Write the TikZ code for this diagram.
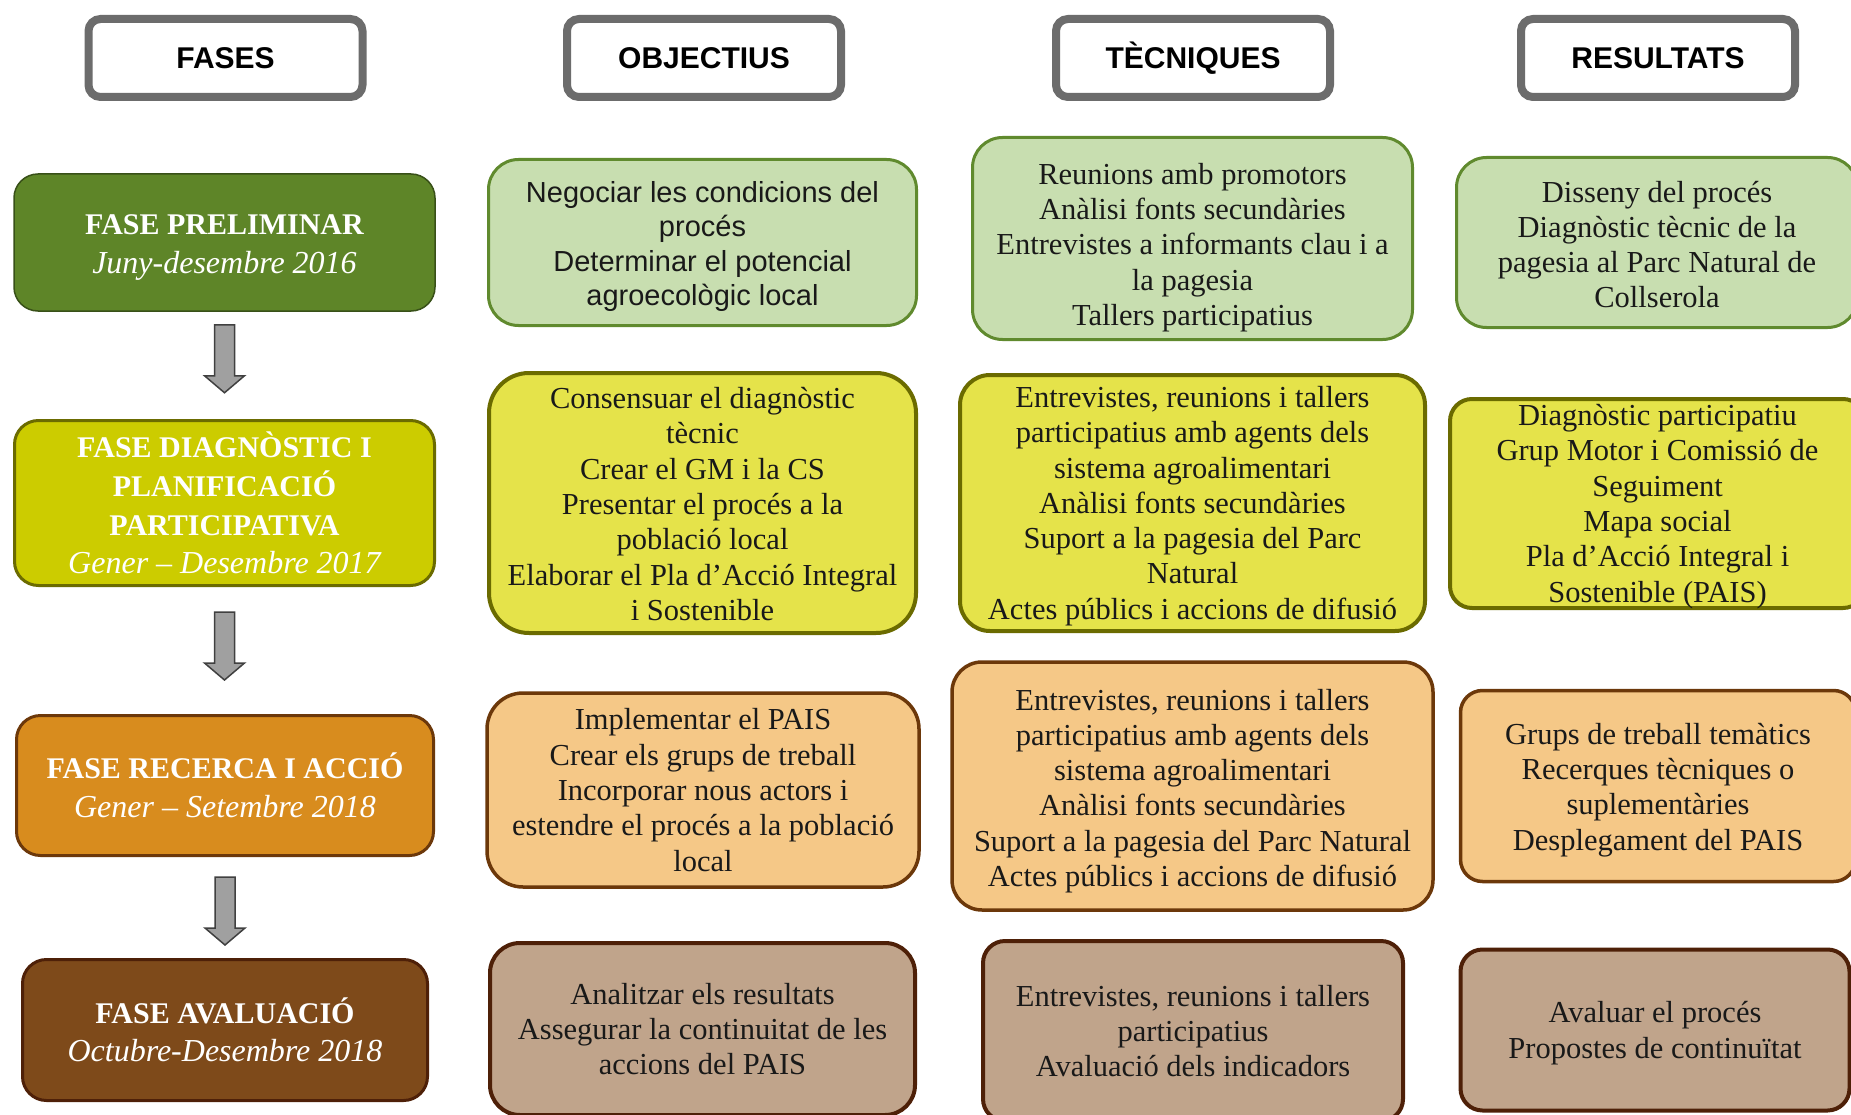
\documentclass[tikz,border=0pt]{standalone}
\usepackage{fontspec}
\setmainfont{Liberation Serif}
\setsansfont{Liberation Sans}
\usepackage{tikz}
\usetikzlibrary{calc}

\definecolor{grisV}{RGB}{108,108,108}
\definecolor{grisF}{RGB}{160,160,160}
\definecolor{verdF}{RGB}{94,133,40}
\definecolor{verdL}{RGB}{200,222,176}
\definecolor{verdV}{RGB}{96,138,46}
\definecolor{grocF}{RGB}{204,204,0}
\definecolor{grocL}{RGB}{229,227,74}
\definecolor{grocV}{RGB}{107,107,0}
\definecolor{taronjaF}{RGB}{216,140,30}
\definecolor{taronjaL}{RGB}{245,200,135}
\definecolor{taronjaV}{RGB}{108,56,10}
\definecolor{marroF}{RGB}{126,74,26}
\definecolor{marroL}{RGB}{192,164,139}
\definecolor{marroV}{RGB}{78,32,8}

\tikzset{
  capbox/.style={draw=grisV, line width=8pt, fill=white, rounded corners=12pt,
    minimum width=274pt, minimum height=78pt, inner sep=0pt,
    font=\sffamily\bfseries\fontsize{30}{36}\selectfont},
  fasebox/.style={rounded corners=24pt, inner sep=0pt},
  fasetext/.style={text=white, align=center, inner sep=0pt,
    font=\bfseries\fontsize{30}{38.6}\selectfont},
  caixa/.style={rounded corners=30pt, inner sep=0pt},
  lletra/.style={align=center, inner sep=0pt, text=black!90,
    font=\fontsize{30.5}{35.3}\selectfont},
  fila1/.style={fill=verdL, draw=verdV, line width=3pt},
  fila2/.style={fill=grocL, draw=grocV, line width=4pt},
  fila3/.style={fill=taronjaL, draw=taronjaV, line width=3.5pt},
  fila4/.style={fill=marroL, draw=marroV, line width=4pt},
  fletxa/.style={draw=black!75, fill=grisF, line width=1.5pt},
}

\newcommand{\data}[1]{{\normalfont\itshape\fontsize{32}{38.6}\selectfont #1}}
\newcommand{\fletxabaix}[2]{%
  \draw[fletxa] ($(#1.south)+(-10,#2)$) -- ++(20,0) -- ++(0,51) -- ++(10,0)
    -- ++(-20,17) -- ++(-20,-17) -- ++(10,0) -- cycle;}

\begin{document}
\begin{tikzpicture}[x=1pt,y=-1pt]
\useasboundingbox[fill=white] (0,0) rectangle (1851,1115);

\node[capbox] (cFases) at (225.5,58) {FASES};
\node[capbox] (cObj) at (704,58) {OBJECTIUS};
\node[capbox] (cTec) at (1193,58) {TÈCNIQUES};
\node[capbox] (cRes) at (1658,58) {RESULTATS};

\node[fasebox, fill=verdF, draw=verdF!60!black, line width=1.5pt,
  minimum width=421pt, minimum height=137pt,
  label={[fasetext, yshift=-5pt, font=\bfseries\fontsize{30}{39}\selectfont]center:{FASE PRELIMINAR\\\data{Juny-desembre 2016}}}]
  (f1) at (224.5,242.5) {};
\node[fasebox, fill=grocF, draw=grocV, line width=3pt,
  minimum width=420pt, minimum height=165pt,
  label={[fasetext]center:{FASE DIAGNÒSTIC I\\PLANIFICACIÓ\\PARTICIPATIVA\\\data{Gener – Desembre 2017}}}]
  (f2) at (224.5,503) {};
\node[fasebox, fill=taronjaF, draw=taronjaV, line width=3pt,
  minimum width=417pt, minimum height=140pt,
  label={[fasetext]center:{FASE RECERCA I ACCIÓ\\\data{Gener – Setembre 2018}}}]
  (f3) at (225,785.5) {};
\node[fasebox, fill=marroF, draw=marroV, line width=3pt,
  minimum width=405pt, minimum height=141pt,
  label={[fasetext]center:{FASE AVALUACIÓ\\\data{Octubre-Desembre 2018}}}]
  (f4) at (225,1030) {};

\fletxabaix{f1}{13}
\fletxabaix{f2}{25}
\fletxabaix{f3}{20}

\node[caixa, fila1, minimum width=428pt, minimum height=166pt,
  label={[lletra, yshift=-4pt, font=\sffamily\fontsize{29}{34.5}\selectfont]center:{Negociar les condicions del\\procés\\Determinar el potencial\\agroecològic local}}]
  (o1) at (702.5,242.5) {};
\node[caixa, fila1, minimum width=440pt, minimum height=202pt,
  label={[lletra, yshift=-9pt]center:{Reunions amb promotors\\Anàlisi fonts secundàries\\Entrevistes a informants clau i a\\la pagesia\\Tallers participatius}}]
  (t1) at (1192.5,238.5) {};
\node[caixa, fila1, minimum width=401pt, minimum height=170pt,
  label={[lletra, yshift=-2pt]center:{Disseny del procés\\Diagnòstic tècnic de la\\pagesia al Parc Natural de\\Collserola}}]
  (r1) at (1657,242.5) {};

\node[caixa, fila2, rounded corners=40pt, minimum width=427pt, minimum height=260pt,
  label={[lletra, yshift=-1pt]center:{Consensuar el diagnòstic\\tècnic\\Crear el GM i la CS\\Presentar el procés a la\\població local\\Elaborar el Pla d’Acció Integral\\i Sostenible}}]
  (o2) at (702.5,503) {};
\node[caixa, fila2, minimum width=465pt, minimum height=256pt,
  label={[lletra, yshift=-3pt]center:{Entrevistes, reunions i tallers\\participatius amb agents dels\\sistema agroalimentari\\Anàlisi fonts secundàries\\Suport a la pagesia del Parc\\Natural\\Actes públics i accions de difusió}}]
  (t2) at (1192.5,503) {};
\node[caixa, fila2, rounded corners=22pt, minimum width=415pt, minimum height=209pt,
  label={[lletra, yshift=-3pt]center:{Diagnòstic participatiu\\Grup Motor i Comissió de\\Seguiment\\Mapa social\\Pla d’Acció Integral i\\Sostenible (PAIS)}}]
  (r2) at (1657.5,503.5) {};

\node[caixa, fila3, rounded corners=36pt, minimum width=432pt, minimum height=194pt,
  label={[lletra]center:{Implementar el PAIS\\Crear els grups de treball\\Incorporar nous actors i\\estendre el procés a la població\\local}}]
  (o3) at (703,790) {};
\node[caixa, fila3, minimum width=481pt, minimum height=248pt,
  label={[lletra, yshift=-5pt]center:{Entrevistes, reunions i tallers\\participatius amb agents dels\\sistema agroalimentari\\Anàlisi fonts secundàries\\Suport a la pagesia del Parc Natural\\Actes públics i accions de difusió}}]
  (t3) at (1192.5,786) {};
\node[caixa, fila3, rounded corners=22pt, minimum width=395pt, minimum height=191pt,
  label={[lletra, yshift=-4pt]center:{Grups de treball temàtics\\Recerques tècniques o\\suplementàries\\Desplegament del PAIS}}]
  (r3) at (1658,786) {};

\node[caixa, fila4, minimum width=425pt, minimum height=172pt,
  label={[lletra]center:{Analitzar els resultats\\Assegurar la continuitat de les\\accions del PAIS}}]
  (o4) at (702.5,1029) {};
\node[caixa, fila4, rounded corners=22pt, minimum width=420pt, minimum height=180pt,
  label={[lletra]center:{Entrevistes, reunions i tallers\\participatius\\Avaluació dels indicadors}}]
  (t4) at (1193,1031) {};
\node[caixa, fila4, rounded corners=22pt, minimum width=389pt, minimum height=161pt,
  label={[lletra, yshift=-3pt]center:{Avaluar el procés\\Propostes de continuïtat}}]
  (r4) at (1655,1030) {};
\end{tikzpicture}
\end{document}
